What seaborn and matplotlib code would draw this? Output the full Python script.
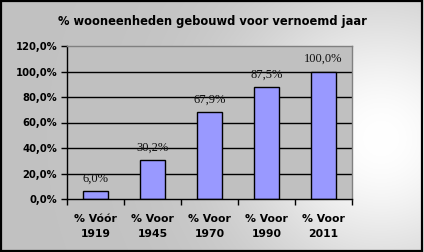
import numpy as np
import pandas as pd
import matplotlib
matplotlib.use("Agg")
import matplotlib.pyplot as plt
import seaborn as sns
from matplotlib.patches import Rectangle

categories = ["% Vóór\n1919", "% Voor\n1945", "% Voor\n1970", "% Voor\n1990", "% Voor\n2011"]
values = [6.0, 30.2, 67.9, 87.5, 100.0]
yticks = [0, 20, 40, 60, 80, 100, 120]
title = "% wooneenheden gebouwd voor vernoemd jaar"

df = pd.DataFrame({"cat": categories, "val": values})

sns.set_theme(style="white")
plt.rcParams['font.family'] = ['DejaVu Sans']
plt.rcParams['text.color'] = 'black'
plt.rcParams['xtick.color'] = 'black'
plt.rcParams['ytick.color'] = 'black'
plt.rcParams['xtick.labelcolor'] = 'black'
plt.rcParams['ytick.labelcolor'] = 'black'

fig = plt.figure(figsize=(4.24, 2.52), dpi=100)

# background gradient
bg = fig.add_axes([0, 0, 1, 1], zorder=-10)
xs = np.linspace(0, 1, 424)
ys = np.linspace(0, 1, 252)
X, Y = np.meshgrid(xs, ys)
v = 0.76 + 0.24 * np.exp(-((X - 0.9) / 0.33) ** 2 - ((Y - 0.55) / 0.55) ** 2)
v = np.clip(v, 0, 1)
bg.imshow(np.dstack([v, v, v]), extent=[0, 1, 0, 1], aspect='auto', origin='upper')
bg.set_axis_off()
bg.add_patch(Rectangle((0.002, 0.004), 0.994, 0.992, transform=bg.transAxes,
                       fill=False, edgecolor='black', linewidth=1.6))

ax = fig.add_axes([67 / 424, 1 - 199 / 252, 285 / 424, 153 / 252])
ax.set_facecolor('#C0C0C0')
sns.barplot(data=df, x="cat", y="val", ax=ax, color='#9999FF', width=0.44,
            edgecolor='black', linewidth=1.0, saturation=1)

ax.set_ylim(0, 120)
ax.set_xlim(-0.5, len(categories) - 0.5)
ax.set_yticks(yticks)
ax.set_yticklabels([f"{t:.1f}%".replace('.', ',') for t in yticks],
                   fontsize=7.2, fontweight='bold')
for t in yticks[1:-1]:
    ax.axhline(t, color='black', linewidth=1.0, zorder=0.5)

ax.set_xticks(range(len(categories)))
ax.set_xticklabels(categories, fontsize=7.8, fontweight='bold', linespacing=1.55)
ax.tick_params(axis='x', length=0, pad=11)
ax.set_xticks(np.arange(-0.5, len(categories), 1), minor=True)
ax.tick_params(axis='x', which='minor', length=4, width=1, color='black', direction='out', bottom=True)
ax.tick_params(axis='y', length=4, width=1, color='black', direction='out', left=True, pad=3)
ax.set_xlabel("")
ax.set_ylabel("")

for s in ['left', 'bottom']:
    ax.spines[s].set_color('black')
    ax.spines[s].set_linewidth(1.0)
for s in ['top', 'right']:
    ax.spines[s].set_color('#808080')
    ax.spines[s].set_linewidth(1.0)

for i, val in enumerate(values):
    ax.annotate(f"{val:.1f}%".replace('.', ','), (i, val), xytext=(0, 5),
                textcoords='offset points', ha='center', va='bottom',
                fontsize=9, family='Liberation Serif', color='#111111')

fig.text(0.5, 1 - 22 / 252, title, ha='center', va='center', fontsize=8.3,
         fontweight='bold', color='black')

fig.savefig("out.png", dpi=100)
